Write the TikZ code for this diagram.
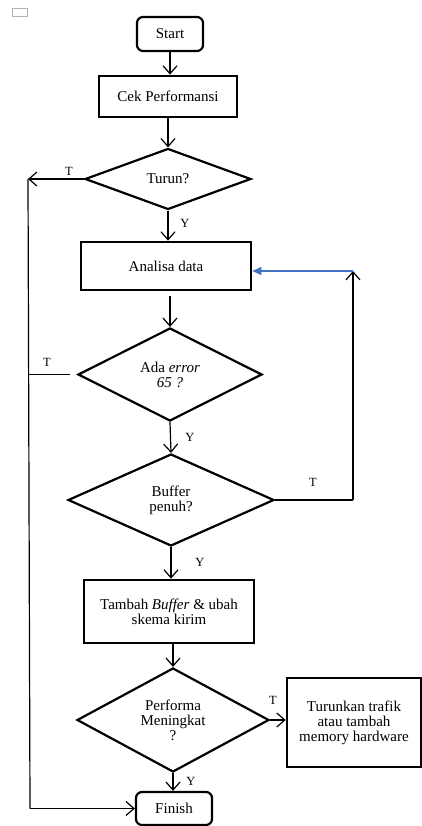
\documentclass[tikz,border=0pt]{standalone}
\usepackage{fontspec}
\setmainfont{Liberation Serif}
\usetikzlibrary{shapes.geometric,arrows.meta}
\definecolor{linkblue}{HTML}{4472C4}
\begin{document}
\begin{tikzpicture}[x=1pt,y=-1pt,
  every node/.style={font=\fontsize{15}{15}\selectfont},
  termbox/.style={draw,rounded corners=6pt,line width=2.2pt,inner sep=0pt,align=center},
  procbox/.style={draw,line width=2.7pt,inner sep=0pt,align=center},
  decbox/.style={draw,diamond,line width=2.2pt,inner sep=0pt,aspect=2,align=center},
  lbl/.style={font=\fontsize{12.5}{12.5}\selectfont,inner sep=0pt},
  flow/.style={line width=1.2pt,-{Straight Barb[length=8pt,width=14pt,line width=1.2pt]}},
  plain/.style={line width=1.2pt},
  blueflow/.style={line width=1.1pt,draw=linkblue,-{Triangle[length=9pt,width=8pt,fill=linkblue]}},
]
\useasboundingbox (0,0) rectangle (422,826);
\draw[gray!60,line width=0.8pt] (12,8) rectangle (27,16);

\node[termbox,minimum width=66pt,minimum height=34pt] (start) at (170,34) {Start};
\node[procbox,minimum width=138pt,minimum height=41pt] (cek) at (168,96.5) {Cek Performansi};
\node[decbox,minimum width=166pt,minimum height=61pt] (turun) at (168,179) {Turun?};
\node[procbox,minimum width=170pt,minimum height=48pt] (analisa) at (166,266) {Analisa data};
\node[decbox,minimum width=184pt,minimum height=93pt] (ada) at (170,374.5) {Ada \textit{error}\\\textit{65 ?}};
\node[decbox,minimum width=206pt,minimum height=92pt] (buffer) at (171,500) {Buffer\\penuh?};
\node[procbox,minimum width=170pt,minimum height=63pt] (tambah) at (169,611.5) {Tambah \textit{Buffer} \& ubah\\skema kirim};
\node[decbox,minimum width=192pt,minimum height=104pt] (performa) at (173,720) {Performa\\Meningkat\\?};
\node[procbox,minimum width=134pt,minimum height=89pt] (turunkan) at (354,722.5) {Turunkan trafik\\atau tambah\\memory hardware};
\node[termbox,minimum width=76pt,minimum height=33pt] (finish) at (174,808.5) {Finish};

\coordinate (cTL) at (28,179);
\coordinate (cBL) at (30,808.5);
\coordinate (cRT) at (353,271);

\draw[flow] (start.south) -- (start.south |- cek.north);
\draw[flow] (turun.north |- cek.south) -- (turun.north);
\draw[flow] (turun.south) -- (turun.south |- analisa.north);
\draw[flow,shorten <=5pt] (ada.north |- analisa.south) -- (ada.north);
\draw[flow] (ada.south) -- (buffer.north);
\draw[flow] (buffer.south) -- (buffer.south |- tambah.north);
\draw[flow] (performa.north |- tambah.south) -- (performa.north);
\draw[flow] (performa.south) -- (performa.south |- finish.north);
\draw[flow] (performa.east) -- (turunkan.west |- performa.east);

\draw[flow] (turun.west) -- (cTL);
\draw[plain] (cTL) -- (cBL);
\draw[flow] (cBL) -- (finish.west);
\draw[plain,shorten <=7pt] (ada.west) -- (ada.west -| cTL);

\draw[plain] (buffer.east) -- (buffer.east -| cRT);
\draw[flow] (buffer.east -| cRT) -- (cRT);
\draw[blueflow] (cRT) -- (cRT -| analisa.east);

\node[lbl] (t1) at (69,171) {T};
\node[lbl] (y1) at (185,223) {Y};
\node[lbl] (t2) at (47,362) {T};
\node[lbl] (y2) at (190,437) {Y};
\node[lbl] (t3) at (313,482) {T};
\node[lbl] (y3) at (200,562) {Y};
\node[lbl] (t4) at (273,700) {T};
\node[lbl] (y4) at (191,781) {Y};
\end{tikzpicture}
\end{document}
